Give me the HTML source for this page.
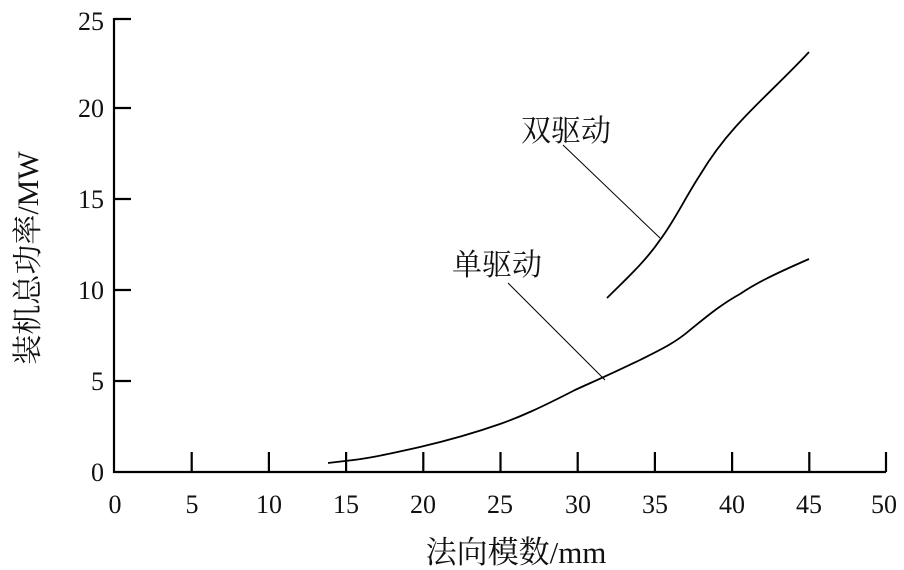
<!DOCTYPE html>
<html><head><meta charset="utf-8"><style>body{margin:0;background:#fff}svg{display:block}text{font-family:"Liberation Serif","Noto Serif CJK SC",serif;fill:#111}</style></head><body>
<svg width="904" height="570" viewBox="0 0 904 570">
<g stroke="#000" stroke-width="2.2" fill="none">
<path d="M114,18 V472 H886"/>
<path d="M114,19h17M114,108h17M114,199h17M114,290h17M114,381h17"/>
<path d="M191.7,472v-20M268.9,472v-20M346.1,472v-20M423.3,472v-20M500.5,472v-20M577.7,472v-20M654.9,472v-20M732.1,472v-20M809.3,472v-20M886,472v-20"/>
</g>
<g stroke="#000" stroke-width="1.8" fill="none">
<path d="M328,463 L345,461 C365,459 380,456 420,447 C450,440 480,431 500,424 C520,417 540,408 575,390 C590,383 605,377 640,360 C660,350 675,343 690,330 C705,318 720,305 740,294 C755,284 770,276 809,259"/>
<path d="M607,298 C625,280 645,262 660,240 C675,220 685,198 700,175 C712,155 725,138 740,122 C760,100 785,78 809,52"/>
</g>
<g stroke="#000" stroke-width="1" fill="none"><path d="M563,145 L660,238"/><path d="M508,283 L605,380"/></g>
<g font-size="26" text-anchor="end">
<text x="104" y="30">25</text><text x="104" y="117">20</text><text x="104" y="208">15</text><text x="104" y="299">10</text><text x="104" y="390">5</text><text x="104" y="481">0</text>
</g>
<g font-size="26" text-anchor="middle">
<text x="115" y="513">0</text><text x="192" y="513">5</text><text x="269" y="513">10</text><text x="346" y="513">15</text><text x="423" y="513">20</text><text x="500" y="513">25</text><text x="578" y="513">30</text><text x="655" y="513">35</text><text x="732" y="513">40</text><text x="809" y="513">45</text><text x="884" y="513">50</text>
<text x="516" y="563" font-size="31">法向模数/mm</text>
<text x="566" y="141" font-size="30">双驱动</text>
<text x="497" y="275" font-size="30">单驱动</text>
<text transform="translate(38,258) rotate(-90)" font-size="30">装机总功率/MW</text>
</g>
</svg></body></html>
